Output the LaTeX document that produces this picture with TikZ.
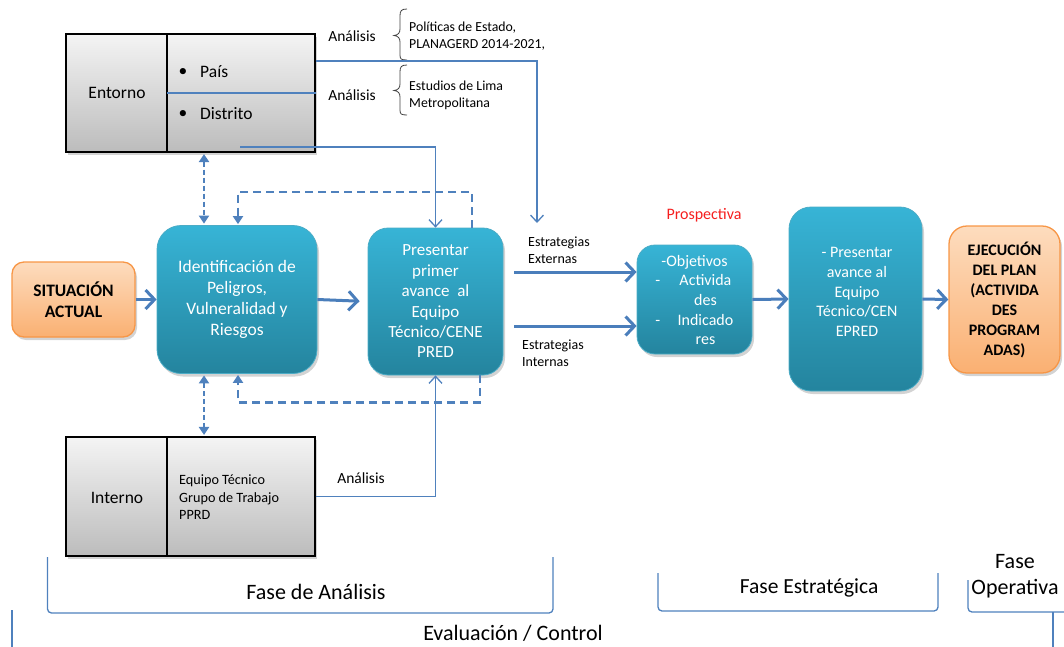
\documentclass[tikz,border=0pt]{standalone}
\usepackage{fontspec}
\setmainfont{Carlito}
\usetikzlibrary{arrows.meta,shadows,calc}
\definecolor{lblue}{RGB}{79,129,189}
\definecolor{darrow}{RGB}{74,126,187}
\definecolor{tealtop}{RGB}{55,180,214}
\definecolor{tealbot}{RGB}{36,132,158}
\definecolor{tealedge}{RGB}{75,172,198}
\definecolor{ortop}{RGB}{253,220,190}
\definecolor{orbot}{RGB}{250,176,114}
\definecolor{oredge}{RGB}{247,150,70}
\definecolor{graytop}{RGB}{244,244,244}
\definecolor{graybot}{RGB}{188,188,188}
\definecolor{prosred}{RGB}{245,30,30}
\tikzset{
  shad/.style={drop shadow={shadow xshift=2pt,shadow yshift=-3pt,opacity=0.35}},
  tealbox/.style={draw=tealedge, line width=0.8pt, top color=tealtop, bottom color=tealbot, text=white, align=center, inner sep=0pt, shad},
  orbox/.style={draw=oredge, line width=1.3pt, top color=ortop, bottom color=orbot, align=center, inner sep=0pt, shad},
  graybox/.style={draw=black, line width=1.1pt, top color=graytop, bottom color=graybot, inner sep=0pt, shad},
  thinline/.style={draw=lblue, line width=1.3pt},
  thinarr/.style={thinline, -{Straight Barb[length=7pt,width=13pt]}},
  thickarr/.style={draw=darrow, line width=3pt, -{Straight Barb[length=9pt,width=19pt]}},
  dashdbl/.style={draw=lblue, line width=2.2pt, dash pattern=on 5pt off 3pt, {Triangle[length=8pt,width=10pt]}-{Triangle[length=8pt,width=10pt]}, shorten <=1.5pt, shorten >=1.5pt},
  dashfb/.style={draw=lblue, line width=2.2pt, dash pattern=on 8pt off 5pt, -{Triangle[length=8pt,width=10pt]}, shorten >=1pt},
  bracket/.style={draw=lblue, line width=1.3pt, rounded corners=4pt},
  bracelin/.style={draw=black!75, line width=0.8pt},
  fbig/.style={font=\fontsize{17.5}{21}\selectfont},
  fmid/.style={font=\fontsize{16}{19.6}\selectfont},
  fsmall/.style={font=\fontsize{14.5}{17.5}\selectfont},
  fxs/.style={font=\fontsize{13.8}{16.5}\selectfont},
  fphase/.style={font=\fontsize{22}{26.5}\selectfont},
}
\begin{document}
\begin{tikzpicture}[x=1pt,y=-1pt]
\useasboundingbox (0,0) rectangle (1064,646);
% ---------- Entorno
\node[graybox, minimum width=249pt, minimum height=118pt] (entorno) at (190.5,93) {};
\draw[black, line width=1.1pt] (167,34) -- (167,152);
\node[fbig] (entornotxt) at (117,93) {Entorno};
\node[fbig] (b1) at (183,72) {\textbullet};
\node[fbig, anchor=west, inner sep=0pt] (pais) at (200,72) {País};
\node[fbig] (b2) at (183,114) {\textbullet};
\node[fbig, anchor=west, inner sep=0pt] (distrito) at (200,114) {Distrito};
\coordinate (midl) at (167,93);
\draw[thinline] (midl) -- (entorno.east);
% ---------- top labels
\node[font=\fontsize{15.5}{18}\selectfont] (an1) at (352,36) {Análisis};
\node[font=\fontsize{15.5}{18}\selectfont] (an2) at (352,95) {Análisis};
\draw[bracelin] (407,9) .. controls (401,9) and (400,11) .. (400,16) -- (400,29) .. controls (400,33) and (398,35) .. (394,35.5) .. controls (398,36) and (400,38) .. (400,42) -- (400,55) .. controls (400,59) and (401,60) .. (407,60);
\draw[bracelin] (407,65) .. controls (401,65) and (400,67) .. (400,72) -- (400,84) .. controls (400,88) and (398,90) .. (394,90.5) .. controls (398,91) and (400,93) .. (400,97) -- (400,110) .. controls (400,114) and (401,115) .. (407,115);
\node[fxs, anchor=west, align=left, inner sep=0pt] (pol) at (409,36) {Políticas de Estado,\\PLANAGERD 2014-2021,};
\node[fxs, anchor=west, align=left, inner sep=0pt] (est) at (409,95.5) {Estudios de Lima\\Metropolitana};
% ---------- Interno
\node[graybox, minimum width=249pt, minimum height=119pt] (interno) at (190.5,496.5) {};
\draw[black, line width=1.1pt] (167,437) -- (167,556);
\node[fbig] (internotxt) at (117,498) {Interno};
\node[font=\fontsize{14.2}{17.5}\selectfont, anchor=west, align=left, inner sep=0pt] (equipo) at (179,497.5) {Equipo Técnico\\Grupo de Trabajo\\PPRD};
\node[font=\fontsize{15.5}{18}\selectfont] (an3) at (361,478) {Análisis};
% ---------- process boxes
\node[orbox, rounded corners=12pt, minimum width=123pt, minimum height=75pt, font=\fontsize{17.5}{21}\selectfont\bfseries] (sit) at (73.5,299.5) {SITUACIÓN\\ACTUAL};
\node[tealbox, rounded corners=24pt, minimum width=160pt, minimum height=148pt, fbig] (ident) at (237,299.5) {Identificación de\\Peligros,\\Vulneralidad y\\Riesgos};
\node[tealbox, rounded corners=20pt, minimum width=135pt, minimum height=147pt, font=\fontsize{17}{20.4}\selectfont] (pres) at (435.5,301.5) {Presentar\\primer\\avance~ al\\Equipo\\Técnico/CENE\\PRED};
\node[tealbox, rounded corners=18pt, minimum width=115pt, minimum height=109pt] (obj) at (694.5,299.5) {};
\node[fmid, text=white, inner sep=0pt] (objtxt) at (694.5,301.5) {\begin{tabular}{@{}c@{\hspace{17pt}}c@{}}\multicolumn{2}{c}{-Objetivos}\\ - & Activida\\ & des\\ - & Indicado\\ & res\end{tabular}};
\node[fmid, text=prosred] (prosp) at (704,215) {Prospectiva};
\node[tealbox, rounded corners=22pt, minimum width=133pt, minimum height=184pt] (pav) at (855.5,299) {};
\node[fmid, text=white, align=center] (pavtxt) at (857,292) {- Presentar\\avance al\\Equipo\\Técnico/CEN\\EPRED};
\node[orbox, rounded corners=18pt, minimum width=111pt, minimum height=147pt, font=\fontsize{16}{20}\selectfont\bfseries] (ejec) at (1004.5,299.5) {EJECUCIÓN\\DEL PLAN\\(ACTIVIDA\\DES\\PROGRAM\\ADAS)};
% strategy labels
\node[font=\fontsize{14}{17.5}\selectfont, anchor=west, align=left, inner sep=0pt] (ext) at (528,250) {Estrategias\\Externas};
\node[font=\fontsize{14}{17.5}\selectfont, anchor=west, align=left, inner sep=0pt] (int) at (522,353) {Estrategias\\Internas};
% ---------- connectors
\coordinate (ytop) at (0,61);
\coordinate (exttip) at (537,223);
\draw[thinarr] (entorno.east |- ytop) -| (exttip);
\coordinate (dstart) at (240,147);
\draw[thinarr] (dstart) -| (pres.north);
\draw[thinarr] (interno.east) -| (pres.south);
\draw[thickarr] (sit.east) -- (ident.west);
\draw[thickarr, shorten >=8pt] (ident.east) -- (pres.west);
\coordinate (ya) at (0,272);
\coordinate (yb) at (0,326);
\draw[thickarr, shorten <=11pt] (pres.east |- ya) -- (obj.west |- ya);
\draw[thickarr, shorten <=11pt] (pres.east |- yb) -- (obj.west |- yb);
\draw[thickarr] (obj.east) -- (pav.west);
\draw[thickarr] (pav.east) -- (ejec.west);
\coordinate (xa) at (204,0);
\coordinate (xb) at (238,0);
\coordinate (xc) at (472,0);
\coordinate (xd) at (480,0);
\draw[dashdbl] (entorno.south -| xa) -- (ident.north -| xa);
\draw[dashdbl] (ident.south -| xa) -- (interno.north -| xa);
\draw[dashfb] (pres.north -| xc) -- ++(0,-36) -| (ident.north -| xb);
\draw[dashfb] (pres.south -| xd) -- ++(0,27) -| (ident.south -| xb);
% ---------- phases
\draw[bracket] (47.5,557) -- (47.5,613) -- (553,613) -- (553,557);
\node[fphase] (fa) at (316,592) {Fase de Análisis};
\draw[bracket] (658,573) -- (658,611) -- (938,611) -- (938,573);
\node[fphase, font=\fontsize{21.5}{26}\selectfont] (fe) at (809,588) {Fase Estratégica};
\draw[bracket] (968,580) -- (968,612) -- (1068,612);
\node[fphase, align=center] (fo) at (1015,576) {Fase\\Operativa};
\draw[bracket] (12,610) -- (12,650);
\draw[bracket] (1053,612) -- (1053,650);
\node[fphase, inner sep=1pt] (ev) at (513,633.5) {Evaluación / Control};
\end{tikzpicture}
\end{document}
